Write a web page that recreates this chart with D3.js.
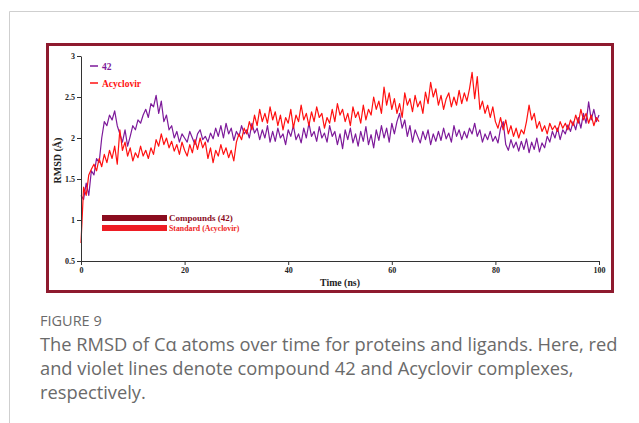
<!DOCTYPE html>
<html>
<head>
<meta charset="utf-8">
<script src="https://cdn.jsdelivr.net/npm/d3@7"></script>
<style>
  body { margin: 0; background: #fff; }
  svg { display: block; }
</style>
</head>
<body>
<svg id="chart" width="639" height="423"></svg>
<script>
// time step of the trajectory samples (ns)
const timeStep = 0.5;

// RMSD of compound 42 complex (violet)
const rmsd42 = [
  1.30, 1.25, 1.45, 1.30, 1.60, 1.55, 1.75, 1.70, 2.00, 2.20, 2.15, 2.28, 2.22, 2.33, 2.15, 2.05, 1.95, 2.10, 1.90, 2.02,
  2.15, 2.10, 2.22, 2.18, 2.28, 2.35, 2.25, 2.42, 2.38, 2.52, 2.30, 2.45, 2.20, 2.28, 2.10, 2.15, 2.00, 2.08, 1.95, 2.05,
  2.00, 1.95, 2.08, 2.00, 1.92, 2.05, 2.10, 1.98, 2.02, 1.95, 2.06, 1.99, 2.12, 2.02, 2.15, 2.00, 2.18, 2.05, 2.12, 1.97,
  2.08, 2.02, 2.15, 2.05, 2.10, 2.00, 2.18, 2.06, 2.12, 1.98, 2.10, 2.00, 2.15, 1.95, 2.08, 1.96, 2.12, 2.00, 2.05, 1.92,
  2.10, 2.02, 2.15, 1.98, 2.05, 1.94, 2.12, 2.00, 2.18, 2.02, 2.08, 1.96, 2.14, 2.00, 2.06, 1.95, 2.15, 2.02, 2.08, 1.92,
  2.05, 1.87, 2.10, 1.98, 2.12, 1.94, 2.05, 1.90, 2.08, 1.96, 2.14, 1.92, 2.04, 1.88, 2.10, 1.97, 2.15, 2.00, 2.12, 1.95,
  2.18, 2.05, 2.20, 2.30, 2.12, 2.22, 2.02, 2.15, 1.95, 2.10, 2.02, 1.94, 2.08, 1.98, 2.10, 1.92, 2.05, 1.96, 2.08, 1.97,
  2.12, 1.99, 2.06, 1.95, 2.15, 2.02, 2.10, 1.98, 2.08, 2.00, 2.12, 2.05, 2.18, 2.02, 2.10, 1.95, 2.05, 1.98, 2.08, 1.96,
  2.02, 1.94, 2.12, 2.20, 1.92, 1.85, 1.98, 1.88, 1.95, 1.84, 1.96, 1.86, 1.99, 1.82, 1.95, 1.86, 2.00, 1.83, 1.94, 1.88,
  2.02, 1.95, 2.08, 2.00, 2.12, 1.98, 2.10, 2.05, 2.16, 2.08, 2.20, 2.10, 2.25, 2.12, 2.30, 2.18, 2.44, 2.22, 2.35, 2.20,
  2.28
];

// RMSD of Acyclovir complex (red)
const rmsdAcyclovir = [
  0.72, 1.40, 1.30, 1.55, 1.62, 1.68, 1.60, 1.75, 1.65, 1.80, 1.70, 1.85, 1.75, 1.90, 1.68, 2.10, 1.85, 1.95, 1.78, 1.88,
  1.72, 1.82, 1.76, 1.90, 1.78, 1.85, 1.75, 1.88, 1.80, 1.98, 1.90, 2.05, 1.92, 2.00, 1.88, 1.96, 1.84, 1.92, 1.80, 1.95,
  1.85, 1.78, 1.92, 1.82, 1.98, 1.86, 2.00, 1.88, 1.95, 1.75, 1.88, 1.70, 1.85, 1.78, 1.92, 1.80, 1.88, 1.76, 1.85, 1.72,
  1.95, 2.05, 1.98, 2.12, 2.05, 2.20, 2.10, 2.28, 2.15, 2.35, 2.20, 2.30, 2.18, 2.38, 2.22, 2.32, 2.15, 2.28, 2.10, 2.25,
  2.18, 2.35, 2.12, 2.28, 2.20, 2.40, 2.22, 2.30, 2.15, 2.32, 2.20, 2.38, 2.25, 2.30, 2.12, 2.25, 2.18, 2.35, 2.20, 2.42,
  2.28, 2.35, 2.20, 2.30, 2.15, 2.38, 2.25, 2.32, 2.18, 2.40, 2.22, 2.35, 2.28, 2.50, 2.35, 2.45, 2.30, 2.62, 2.40, 2.55,
  2.35, 2.48, 2.30, 2.42, 2.25, 2.55, 2.40, 2.48, 2.32, 2.52, 2.38, 2.45, 2.30, 2.56, 2.42, 2.68, 2.50, 2.60, 2.40, 2.52,
  2.35, 2.48, 2.55, 2.38, 2.50, 2.40, 2.58, 2.42, 2.55, 2.45, 2.60, 2.80, 2.48, 2.75, 2.35, 2.45, 2.30, 2.40, 2.25, 2.38,
  2.20, 2.12, 2.25, 2.10, 2.22, 2.05, 2.15, 2.02, 2.12, 2.00, 2.10, 2.05, 2.20, 2.40, 2.22, 2.30, 2.12, 2.20, 2.08, 2.15,
  2.05, 2.18, 2.10, 2.15, 2.08, 2.20, 2.12, 2.18, 2.10, 2.22, 2.15, 2.28, 2.18, 2.35, 2.22, 2.30, 2.18, 2.28, 2.15, 2.25,
  2.20
];

// axis ticks
const xTicks = [0, 20, 40, 60, 80, 100];
const yTicks = [0.5, 1, 1.5, 2, 2.5, 3];

// series labels
const seriesNames = ['42', 'Acyclovir'];
const barLegend = ['Compounds (42)', 'Standard (Acyclovir)'];

const captionTitle = 'FIGURE 9';
const captionLines = [
  'The RMSD of C\u03b1 atoms over time for proteins and ligands. Here, red',
  'and violet lines denote compound 42 and Acyclovir complexes,',
  'respectively.'
];

const violet = '#7d1a9a';
const red = '#ff1010';
const darkRed = '#8a0c1e';
const frameColor = '#8e1a2e';
const serif = '"Liberation Serif", "Times New Roman", serif';

const svg = d3.select('#chart');

// page border (light grey)
svg.append('path')
  .attr('d', 'M9.5,423 L9.5,11.5 L639,11.5')
  .attr('fill', 'none')
  .attr('stroke', '#cfcfcf')
  .attr('stroke-width', 1);

// dark red figure frame
svg.append('rect')
  .attr('x', 47.5).attr('y', 44.5)
  .attr('width', 565).attr('height', 247)
  .attr('fill', '#fff')
  .attr('stroke', frameColor)
  .attr('stroke-width', 3);

// plot area
const plot = {left: 81, right: 599, top: 56, bottom: 261};

const x = d3.scaleLinear().domain([0, 100]).range([plot.left, plot.right]);
const y = d3.scaleLinear().domain([0.5, 3]).range([plot.bottom, plot.top]);

const line = d3.line()
  .x((d, i) => x(i * timeStep))
  .y(d => y(d));

const g = svg.append('g');

// lines: violet first, red on top
g.append('path')
  .datum(rmsd42)
  .attr('d', line)
  .attr('fill', 'none')
  .attr('stroke', violet)
  .attr('stroke-width', 1.2)
  .attr('stroke-linejoin', 'round');

g.append('path')
  .datum(rmsdAcyclovir)
  .attr('d', line)
  .attr('fill', 'none')
  .attr('stroke', red)
  .attr('stroke-width', 1.2)
  .attr('stroke-linejoin', 'round');

// axes
const xAxis = d3.axisBottom(x).tickValues(xTicks).tickSize(4).tickPadding(2).tickSizeOuter(0);
const yAxis = d3.axisLeft(y).tickValues(yTicks).tickSize(4).tickPadding(2).tickSizeOuter(0)
  .tickFormat(d3.format('~g'));

const xAxisG = svg.append('g')
  .attr('transform', `translate(0,${plot.bottom})`)
  .call(xAxis);
const yAxisG = svg.append('g')
  .attr('transform', `translate(${plot.left},0)`)
  .call(yAxis);

[xAxisG, yAxisG].forEach(a => {
  a.select('.domain').attr('stroke', '#333').attr('stroke-width', 1);
  a.selectAll('.tick line').attr('stroke', '#333');
  a.selectAll('.tick text')
    .attr('fill', '#222')
    .style('font-family', serif)
    .style('font-weight', 'bold')
    .style('font-size', '8px');
});

// axis titles
svg.append('text')
  .attr('x', (plot.left + plot.right) / 2)
  .attr('y', 286)
  .attr('text-anchor', 'middle')
  .style('font-family', serif)
  .style('font-weight', 'bold')
  .style('font-size', '9.8px')
  .attr('fill', '#222')
  .text('Time (ns)');

svg.append('text')
  .attr('transform', `translate(61,${(plot.top + plot.bottom) / 2 + 2}) rotate(-90)`)
  .attr('text-anchor', 'middle')
  .style('font-family', serif)
  .style('font-weight', 'bold')
  .style('font-size', '10px')
  .attr('fill', '#222')
  .text('RMSD (\u00c5)');

// top-left line legend
const seriesColors = [violet, red];
seriesNames.forEach((name, i) => {
  const ly = 66 + i * 17;
  svg.append('line')
    .attr('x1', 90).attr('x2', 98)
    .attr('y1', ly).attr('y2', ly)
    .attr('stroke', seriesColors[i])
    .attr('stroke-width', 1.5);
  svg.append('text')
    .attr('x', 102).attr('y', ly + 3.5)
    .style('font-family', serif)
    .style('font-weight', 'bold')
    .style('font-size', '9.5px')
    .attr('fill', seriesColors[i])
    .text(name);
});

// bar legend
const barColors = [darkRed, '#ee1d24'];
const barSizes = ['9px', '7.8px'];
barLegend.forEach((name, i) => {
  const by = 215 + i * 10;
  svg.append('rect')
    .attr('x', 102).attr('y', by)
    .attr('width', 65).attr('height', 6)
    .attr('fill', barColors[i]);
  svg.append('text')
    .attr('x', 169).attr('y', by + 6)
    .style('font-family', serif)
    .style('font-weight', 'bold')
    .style('font-size', barSizes[i])
    .attr('fill', barColors[i])
    .text(name);
});

// caption
svg.append('text')
  .attr('x', 40).attr('y', 326)
  .style('font-family', '"Open Sans", sans-serif')
  .style('font-size', '14.5px')
  .attr('fill', '#6a6a6a')
  .text(captionTitle);

captionLines.forEach((t, i) => {
  svg.append('text')
    .attr('x', 40).attr('y', 351 + i * 24)
    .style('font-family', '"Open Sans", sans-serif')
    .style('font-size', '18.3px')
    .attr('fill', '#6a6a6a')
    .text(t);
});
</script>
</body>
</html>
